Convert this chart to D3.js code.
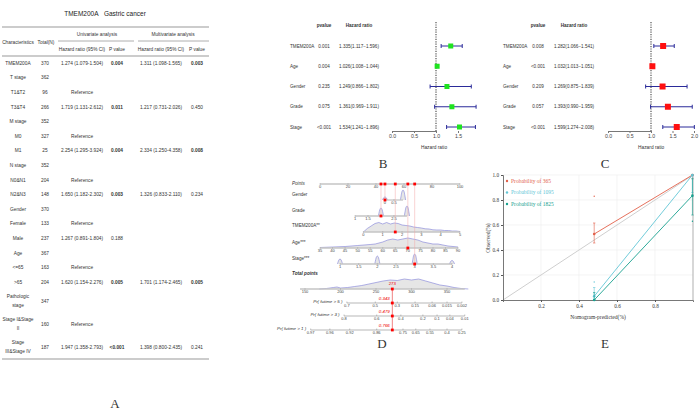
<!DOCTYPE html>
<html>
<head>
<meta charset="utf-8">
<script src="https://cdn.jsdelivr.net/npm/d3@7"></script>
<style>
  body { margin: 0; background: #fff; }
  svg { display: block; }
</style>
</head>
<body>
<svg id="chart" width="700" height="419"></svg>
<script>
// ---------- DATA ----------
// Panel A: Cox table
var tableTitle = "TMEM200A\u00a0\u00a0\u00a0Gastric cancer";
var tableRows = [
  ["TMEM200A", "370", "1.274 (1.079-1.504)", "0.004", "1.311 (1.098-1.565)", "0.003"],
  ["T stage", "362", "", "", "", ""],
  ["T1&T2", "96", "Reference", "", "", ""],
  ["T3&T4", "266", "1.719 (1.131-2.612)", "0.011", "1.217 (0.731-2.026)", "0.450"],
  ["M stage", "352", "", "", "", ""],
  ["M0", "327", "Reference", "", "", ""],
  ["M1", "25", "2.254 (1.295-3.924)", "0.004", "2.334 (1.250-4.358)", "0.008"],
  ["N stage", "352", "", "", "", ""],
  ["N0&N1", "204", "Reference", "", "", ""],
  ["N2&N3", "148", "1.650 (1.182-2.302)", "0.003", "1.326 (0.833-2.110)", "0.234"],
  ["Gender", "370", "", "", "", ""],
  ["Female", "133", "Reference", "", "", ""],
  ["Male", "237", "1.267 (0.891-1.804)", "0.188", "", ""],
  ["Age", "367", "", "", "", ""],
  ["<=65", "163", "Reference", "", "", ""],
  [">65", "204", "1.620 (1.154-2.276)", "0.005", "1.701 (1.174-2.465)", "0.005"],
  ["Pathologic\nstage", "347", "", "", "", ""],
  ["Stage I&Stage\nII", "160", "Reference", "", "", ""],
  ["Stage\nIII&Stage IV", "187", "1.947 (1.358-2.793)", "<0.001", "1.398 (0.800-2.435)", "0.241"]
];
var boldP = ["0.004", "0.011", "0.003", "0.008", "0.005", "<0.001"];

// Panels B & C: forest plots
var forestVars = ["TMEM200A", "Age", "Gender", "Grade", "Stage"];
var uniP  = ["0.001", "0.004", "0.235", "0.075", "<0.001"];
var uniHR = [1.335, 1.026, 1.249, 1.361, 1.534];
var uniLo = [1.117, 1.008, 0.866, 0.969, 1.241];
var uniHi = [1.596, 1.044, 1.802, 1.911, 1.896];
var multiP  = ["0.008", "<0.001", "0.209", "0.057", "<0.001"];
var multiHR = [1.282, 1.032, 1.269, 1.393, 1.599];
var multiLo = [1.066, 1.013, 0.875, 0.990, 1.274];
var multiHi = [1.541, 1.051, 1.839, 1.959, 2.008];

// Panel D: nomogram
var pointsTicks = [0, 20, 40, 60, 80, 100];
var genderDomain = [0, 1], genderPts = [46.4, 59.3], genderLabels = [0, 0.5];
var genderSpikes = [[0, 0.3], [1, 1.0]];
var gradeDomain = [1, 3], gradePts = [25, 62.1], gradeLabels = [1, 1.5, 2.5];
var gradeSpikes = [[2, 0.8], [3, 1.0]];
var tmemDomain = [0, 5], tmemPts = [31, 100], tmemLabels = [0, 1, 2, 3, 4, 5];
var tmemDensX = [0, 0.2, 0.4, 0.6, 0.8, 1.0, 1.2, 1.4, 1.6, 1.8, 2.0, 2.2, 2.4, 2.6, 2.8, 3.0, 3.2, 3.4, 3.6, 3.8, 4.0, 4.2, 4.4, 4.6, 4.8, 5.0];
var tmemDensY = [0, 0.35, 0.6, 0.85, 0.95, 0.8, 0.95, 0.8, 0.9, 0.85, 0.7, 0.65, 0.6, 0.5, 0.45, 0.4, 0.32, 0.3, 0.22, 0.2, 0.2, 0.15, 0.15, 0.1, 0.1, 0.05];
var ageDomain = [35, 90], agePts = [0, 98.6], ageLabels = [35, 40, 45, 50, 55, 60, 65, 70, 75, 80, 85, 90];
var ageDensX = [35, 40, 45, 50, 55, 57, 60, 62, 64, 66, 68, 70, 72, 74, 76, 78, 80, 82, 84, 86, 88, 90];
var ageDensY = [0.05, 0.1, 0.15, 0.25, 0.35, 0.4, 0.6, 0.8, 0.9, 0.8, 0.9, 1.0, 0.9, 0.8, 0.6, 0.5, 0.4, 0.4, 0.3, 0.2, 0.15, 0.1];
var stageDomain = [1, 4], stagePts = [14.3, 94.3], stageLabels = [1, 1.5, 2, 2.5, 3, 3.5, 4];
var stageSpikes = [[1, 0.5], [2, 0.8], [3, 1.0], [4, 0.35]];
var totalTicks = [150, 200, 250, 300, 350];
var totalDensX = [170, 180, 190, 195, 200, 210, 220, 230, 240, 250, 260, 270, 280, 290, 300, 310, 320, 330, 340, 350, 360, 370, 380];
var totalDensY = [0, 0.05, 0.15, 0.2, 0.1, 0.15, 0.25, 0.35, 0.5, 0.65, 0.8, 0.9, 0.85, 1.0, 0.9, 1.0, 0.8, 0.6, 0.4, 0.3, 0.15, 0.05, 0];
var pr5Ticks = ["0.7", "0.5", "0.3", "0.15", "0.06", "0.015", "0.002"];
var pr5Pts   = [209, 249, 280, 305, 329, 350, 371];
var pr3Ticks = ["0.8", "0.6", "0.4", "0.2", "0.1", "0.04", "0.01"];
var pr3Pts   = [205, 251, 285, 316, 336, 354, 375];
var pr1Ticks = ["0.97", "0.96", "0.92", "0.86", "0.75", "0.65", "0.55", "0.4", "0.25"];
var pr1Pts   = [158, 185, 213, 251, 288, 306, 326, 350, 371];
var patient = { gender: 0, grade: 2, tmem: 1.65, age: 70, stage: 3 };
var totalScore = 273;
var predLabels = ["0.343", "0.479", "0.766"];

// Panel E: calibration
var calX = [0.48, 0.997];
var cal365Obs = [0.528, 1.0], cal365Lo = [0.456, 1.0], cal365Hi = [0.616, 1.0], cal365Out = [0.83, 0.975];
var cal1095Obs = [0.03, 1.0], cal1095Lo = [0.0, 0.86], cal1095Hi = [0.10, 1.0], cal1095Out = [0.144, null];
var cal1825Obs = [0.0, 0.835], cal1825Lo = [0.0, 0.68], cal1825Hi = [0.06, 0.97], cal1825Out = [null, 0.63];
var calNames = ["Probability of 365", "Probability of 1095", "Probability of 1825"];
var calColors = ["#e2604a", "#62c6d6", "#17a08e"];

// ---------- DRAWING ----------
var svg = d3.select("#chart");
var sans = '"Liberation Sans", Arial, sans-serif';
var serif = '"Liberation Serif", "Times New Roman", serif';

function text(g, x, y, s, size, anchor, extra) {
  var t = g.append("text").attr("x", x).attr("y", y).text(s)
    .attr("font-family", (extra && extra.family) || sans)
    .attr("font-size", size).attr("text-anchor", anchor || "middle")
    .attr("fill", (extra && extra.fill) || "#333");
  if (extra && extra.weight) t.attr("font-weight", extra.weight);
  if (extra && extra.style) t.attr("font-style", extra.style);
  return t;
}

// ----- Panel A -----
var gA = svg.append("g");
text(gA, 105, 16, tableTitle, 6.5, "middle", { fill: "#222" });
gA.append("line").attr("x1", 2).attr("x2", 209).attr("y1", 27).attr("y2", 27).attr("stroke", "#999").attr("stroke-width", 1.2);
gA.append("line").attr("x1", 58).attr("x2", 134).attr("y1", 41).attr("y2", 41).attr("stroke", "#999").attr("stroke-width", 0.8);
gA.append("line").attr("x1", 138).attr("x2", 209).attr("y1", 41).attr("y2", 41).attr("stroke", "#999").attr("stroke-width", 0.8);
gA.append("line").attr("x1", 2).attr("x2", 209).attr("y1", 56).attr("y2", 56).attr("stroke", "#999").attr("stroke-width", 1);
text(gA, 18, 44, "Characteristics", 4.8);
text(gA, 46, 44, "Total(N)", 4.8);
text(gA, 97, 36, "Univariate analysis", 4.8);
text(gA, 173, 36, "Multivariate analysis", 4.8);
text(gA, 82, 51, "Hazard ratio (95% CI)", 4.8);
text(gA, 117, 51, "P value", 4.8);
text(gA, 161, 51, "Hazard ratio (95% CI)", 4.8);
text(gA, 197, 51, "P value", 4.8);

var colX = [18, 45, 82, 117, 161, 197];
var rowY = [], yy = 63, prevH = 14.6;
tableRows.forEach(function (r, i) {
  var h = r[0].indexOf("\n") >= 0 ? 23 : 14.6;
  if (i > 0) yy += (prevH + h) / 2;
  rowY.push(yy);
  prevH = h;
});
tableRows.forEach(function (r, i) {
  r.forEach(function (cell, j) {
    if (!cell) return;
    var lines = cell.split("\n");
    lines.forEach(function (ln, k) {
      var off = (k - (lines.length - 1) / 2) * 8.5;
      var isBold = (j === 3 || j === 5) && boldP.indexOf(cell) >= 0;
      text(gA, colX[j], rowY[i] + off + 1.7, ln, 4.8, "middle", { weight: isBold ? "bold" : null });
    });
  });
});
gA.append("line").attr("x1", 2).attr("x2", 209).attr("y1", 359).attr("y2", 359).attr("stroke", "#999").attr("stroke-width", 1.2);
text(gA, 115, 408, "A", 13, "middle", { family: serif });

// ----- Panels B & C -----
var forestY = d3.scalePoint().domain(forestVars).range([46, 127]);

function forest(cfg) {
  var g = svg.append("g");
  var x = d3.scaleLinear().domain([0, 1]).range([cfg.x0, cfg.x1]);
  var maxHi = d3.max(cfg.hi);
  text(g, cfg.pX, 27, "pvalue", 4.6, "middle", { weight: "bold" });
  text(g, cfg.hrX, 27, "Hazard ratio", 4.6, "middle", { weight: "bold" });
  forestVars.forEach(function (v, i) {
    var y = forestY(v);
    text(g, cfg.labelX, y + 1.6, v, 4.6, "start");
    text(g, cfg.pX, y + 1.6, cfg.p[i], 4.6, "middle");
    text(g, cfg.hrX, y + 1.6, cfg.hr[i].toFixed(3) + "(" + cfg.lo[i].toFixed(3) + "\u2212" + cfg.hi[i].toFixed(3) + ")", 4.6, "middle");
  });
  g.append("line").attr("x1", x(1)).attr("x2", x(1)).attr("y1", 22).attr("y2", 131)
    .attr("stroke", "#444").attr("stroke-width", 1.1).attr("stroke-dasharray", "1.2,1.2");
  forestVars.forEach(function (v, i) {
    var y = forestY(v);
    g.append("line").attr("x1", x(cfg.lo[i])).attr("x2", x(cfg.hi[i])).attr("y1", y).attr("y2", y).attr("stroke", "#2b2b9a").attr("stroke-width", 1);
    [cfg.lo[i], cfg.hi[i]].forEach(function (e) {
      g.append("line").attr("x1", x(e)).attr("x2", x(e)).attr("y1", y - 2).attr("y2", y + 2).attr("stroke", "#2b2b9a").attr("stroke-width", 1);
    });
    g.append("rect").attr("x", x(cfg.hr[i]) - cfg.sq / 2).attr("y", y - cfg.sq / 2)
      .attr("width", cfg.sq).attr("height", cfg.sq).attr("fill", cfg.color);
  });
  var ax = g.append("g").attr("transform", "translate(0,131)")
    .call(d3.axisBottom(x).tickValues(cfg.ticks).tickSize(2).tickPadding(1.5).tickFormat(d3.format(".1f")));
  ax.select(".domain").attr("stroke", "#777");
  ax.selectAll(".tick line").attr("stroke", "#777");
  ax.selectAll("text").attr("font-family", sans).attr("font-size", 5.2).attr("fill", "#444");
  text(g, (x(0) + x(maxHi)) / 2, 149, "Hazard ratio", 4.8, "middle");
  text(g, cfg.letterX, 168, cfg.letter, 13, "middle", { family: serif });
}
forest({ labelX: 290, pX: 324, hrX: 359, x0: 392, x1: 436, p: uniP, hr: uniHR, lo: uniLo, hi: uniHi,
  ticks: [0, 0.5, 1, 1.5], color: "#1fe31f", sq: 5, letter: "B", letterX: 383 });
forest({ labelX: 503, pX: 538, hrX: 574, x0: 608, x1: 651, p: multiP, hr: multiHR, lo: multiLo, hi: multiHi,
  ticks: [0, 0.5, 1, 1.5, 2], color: "#ff1010", sq: 6, letter: "C", letterX: 605 });

// ----- Panel D: nomogram -----
var gD = svg.append("g");
var ptsX = d3.scaleLinear().domain([0, 100]).range([320, 460]);
var totX = d3.scaleLinear().domain([150, 350]).range([305, 447]);
var axisGrey = "#c4c4c4", densStroke = "#7d7dd8", densFill = "#e6e6e6";

function scaleFor(domain, pts) {
  return d3.scaleLinear().domain(domain).range([ptsX(pts[0]), ptsX(pts[1])]);
}
function axisRow(sc, y, labels, fmt, x0, x1) {
  gD.append("line").attr("x1", x0 != null ? x0 : sc.range()[0]).attr("x2", x1 != null ? x1 : sc.range()[1])
    .attr("y1", y).attr("y2", y).attr("stroke", axisGrey).attr("stroke-width", 1.3);
  labels.forEach(function (v) {
    gD.append("line").attr("x1", sc(v)).attr("x2", sc(v)).attr("y1", y - 1).attr("y2", y + 1).attr("stroke", "#999").attr("stroke-width", 0.4);
    text(gD, sc(v), y + 3.8, fmt ? fmt(v) : v, 4, "middle", { fill: "#444" });
  });
}
function densityArea(sc, y, xs, ys, hmax) {
  var pts = xs.map(function (v, i) { return [sc(v), y - ys[i] * hmax]; });
  var area = d3.area().x(function (d) { return d[0]; }).y0(y).y1(function (d) { return d[1]; });
  gD.append("path").attr("d", area(pts)).attr("fill", densFill);
  gD.append("path").attr("d", d3.line()(pts)).attr("fill", "none").attr("stroke", densStroke).attr("stroke-width", 0.6);
}
function spikes(sc, y, list, hmax) {
  list.forEach(function (s) {
    var cx = sc(s[0]), h = s[1] * hmax;
    var pts = [[cx - 2.6, y], [cx - 1.6, y - h * 0.6], [cx - 0.8, y - h], [cx + 0.8, y - h], [cx + 1.6, y - h * 0.6], [cx + 2.6, y]];
    var area = d3.area().x(function (d) { return d[0]; }).y0(y).y1(function (d) { return d[1]; }).curve(d3.curveBasis);
    gD.append("path").attr("d", area(pts)).attr("fill", densFill);
    gD.append("path").attr("d", d3.line().curve(d3.curveBasis)(pts)).attr("fill", "none").attr("stroke", densStroke).attr("stroke-width", 0.6);
  });
}

var genderX = scaleFor(genderDomain, genderPts);
var gradeX = scaleFor(gradeDomain, gradePts);
var tmemX = scaleFor(tmemDomain, tmemPts);
var ageX = scaleFor(ageDomain, agePts);
var stageX = scaleFor(stageDomain, stagePts);

var yPoints = 184, yGender = 200, yGrade = 216, yTmem = 232, yAge = 248, yStage = 264, yTotal = 289;
var yPr = [303, 316, 330];

// variable labels
text(gD, 292, 185, "Points", 4.6, "start", { style: "italic" });
text(gD, 292, 196, "Gender", 4.6, "start");
text(gD, 292, 212, "Grade", 4.6, "start");
text(gD, 292, 227, "TMEM200A**", 4.6, "start");
text(gD, 292, 244, "Age***", 4.6, "start");
text(gD, 292, 260, "Stage***", 4.6, "start");
text(gD, 292, 275, "Total points", 4.6, "start", { style: "italic", weight: "bold" });

// densities first (under axes)
spikes(genderX, yGender, genderSpikes, 10);
spikes(gradeX, yGrade, gradeSpikes, 10);
densityArea(tmemX, yTmem, tmemDensX, tmemDensY, 10);
densityArea(ageX, yAge, ageDensX, ageDensY, 10);
spikes(stageX, yStage, stageSpikes, 10);
densityArea(totX, yTotal, totalDensX, totalDensY, 10);

axisRow(ptsX, yPoints, pointsTicks);
axisRow(genderX, yGender, genderLabels);
axisRow(gradeX, yGrade, gradeLabels);
axisRow(tmemX, yTmem, tmemLabels);
axisRow(ageX, yAge, ageLabels);
axisRow(stageX, yStage, stageLabels);
axisRow(totX, yTotal, totalTicks, null, totX(143), totX(375));

// probability rows, positions from total points
function prRow(ticks, pts, y, label) {
  var x0 = totX(pts[0]), x1 = totX(pts[pts.length - 1]);
  gD.append("line").attr("x1", x0).attr("x2", x1).attr("y1", y).attr("y2", y).attr("stroke", "#888").attr("stroke-width", 0.6);
  ticks.forEach(function (t, i) {
    var x = totX(pts[i]);
    gD.append("line").attr("x1", x).attr("x2", x).attr("y1", y - 1.5).attr("y2", y).attr("stroke", "#888").attr("stroke-width", 0.5);
    text(gD, x, y + 3.8, t, 4, "middle", { fill: "#444" });
  });
  text(gD, x0 - 4.5, y - 0.2, label, 4.4, "end", { style: "italic" });
}
prRow(pr5Ticks, pr5Pts, yPr[0], "Pr( futime > 5 )");
prRow(pr3Ticks, pr3Pts, yPr[1], "Pr( futime > 3 )");
prRow(pr1Ticks, pr1Pts, yPr[2], "Pr( futime > 1 )");

// patient marks
var marks = [
  [genderX(patient.gender), yGender],
  [gradeX(patient.grade), yGrade],
  [tmemX(patient.tmem), yTmem],
  [ageX(patient.age), yAge],
  [stageX(patient.stage), yStage]
];
marks.forEach(function (m) {
  gD.append("line").attr("x1", m[0]).attr("x2", m[0]).attr("y1", yPoints).attr("y2", m[1])
    .attr("stroke", "#f2a8a8").attr("stroke-width", 0.5);
});
var tx = totX(totalScore);
gD.append("line").attr("x1", tx).attr("x2", tx).attr("y1", yTotal).attr("y2", yPr[2])
  .attr("stroke", "#e83030").attr("stroke-width", 0.6);
marks.forEach(function (m) {
  gD.append("rect").attr("x", m[0] - 1.4).attr("y", m[1] - 1.4).attr("width", 2.8).attr("height", 2.8).attr("fill", "#f00");
  gD.append("rect").attr("x", m[0] - 1.4).attr("y", yPoints - 1.4).attr("width", 2.8).attr("height", 2.8).attr("fill", "#f00");
});
[yTotal].concat(yPr).forEach(function (y) {
  gD.append("rect").attr("x", tx - 1.4).attr("y", y - 1.4).attr("width", 2.8).attr("height", 2.8).attr("fill", "#f00");
});
text(gD, tx, yTotal - 4, String(totalScore), 4.4, "middle", { fill: "#e00" });
predLabels.forEach(function (p, i) {
  text(gD, tx - 8, yPr[i] - 3, p, 4.4, "middle", { fill: "#e00", style: "italic" });
});
text(gD, 382, 348, "D", 13, "middle", { family: serif });

// ----- Panel E: calibration -----
var gE = svg.append("g");
var ex = d3.scaleLinear().domain([0, 1]).range([503, 693]);
var ey = d3.scaleLinear().domain([0, 1]).range([300, 175]);
[0.2, 0.4, 0.6, 0.8, 1.0].forEach(function (v) {
  gE.append("line").attr("x1", ex(v)).attr("x2", ex(v)).attr("y1", ey(0)).attr("y2", ey(1)).attr("stroke", "#ececec").attr("stroke-width", 0.6);
  gE.append("line").attr("x1", ex(0)).attr("x2", ex(1)).attr("y1", ey(v)).attr("y2", ey(v)).attr("stroke", "#ececec").attr("stroke-width", 0.6);
});
gE.append("line").attr("x1", ex(1)).attr("x2", ex(1)).attr("y1", ey(0)).attr("y2", ey(1)).attr("stroke", "#888").attr("stroke-width", 0.6);
gE.append("line").attr("x1", ex(0)).attr("x2", ex(1)).attr("y1", ey(0)).attr("y2", ey(1)).attr("stroke", "#cfcfcf").attr("stroke-width", 1);

var ayE = gE.append("g").attr("transform", "translate(" + ex(0) + ",0)")
  .call(d3.axisLeft(ey).tickValues([0, 0.2, 0.4, 0.6, 0.8, 1.0]).tickSize(2).tickPadding(2).tickFormat(d3.format(".1f")));
var axE = gE.append("g").attr("transform", "translate(0," + ey(0) + ")")
  .call(d3.axisBottom(ex).tickValues([0.2, 0.4, 0.6, 0.8]).tickSize(2).tickPadding(2).tickFormat(d3.format(".1f")));
[ayE, axE].forEach(function (a) {
  a.select(".domain").attr("stroke", "#555").attr("stroke-width", 0.8);
  a.selectAll(".tick line").attr("stroke", "#555");
  a.selectAll("text").attr("font-family", serif).attr("font-size", 5.2).attr("fill", "#333");
});
text(gE, 598, 319, "Nomogram-predicted(%)", 5.5, "middle", { family: serif });
text(gE, 0, 0, "Observed(%)", 5.5, "middle", { family: serif }).attr("transform", "translate(490,238) rotate(-90)");

var calSeries = [
  [cal365Obs, cal365Lo, cal365Hi, cal365Out],
  [cal1095Obs, cal1095Lo, cal1095Hi, cal1095Out],
  [cal1825Obs, cal1825Lo, cal1825Hi, cal1825Out]
];
calSeries.forEach(function (s, k) {
  var c = calColors[k];
  var pts = calX.map(function (v, i) { return [ex(v), ey(s[0][i])]; });
  gE.append("path").attr("d", d3.line()(pts)).attr("fill", "none").attr("stroke", c).attr("stroke-width", 0.9);
  calX.forEach(function (v, i) {
    var x = ex(v);
    gE.append("line").attr("x1", x).attr("x2", x).attr("y1", ey(s[1][i])).attr("y2", ey(s[2][i])).attr("stroke", c).attr("stroke-width", 0.6);
    [s[1][i], s[2][i]].forEach(function (e) {
      gE.append("line").attr("x1", x - 1.2).attr("x2", x + 1.2).attr("y1", ey(e)).attr("y2", ey(e)).attr("stroke", c).attr("stroke-width", 0.6);
    });
    gE.append("circle").attr("cx", x).attr("cy", ey(s[0][i])).attr("r", 1.3).attr("fill", c);
    if (s[3][i] != null) gE.append("circle").attr("cx", x).attr("cy", ey(s[3][i])).attr("r", 0.7).attr("fill", c);
  });
});
calNames.forEach(function (n, k) {
  var y = 181 + k * 11.5;
  gE.append("circle").attr("cx", 507).attr("cy", y).attr("r", 1.2).attr("fill", calColors[k]);
  text(gE, 511, y + 1.8, n, 5.5, "start", { family: serif, fill: calColors[k] });
});
text(gE, 605, 348, "E", 13, "middle", { family: serif });
</script>
</body>
</html>
